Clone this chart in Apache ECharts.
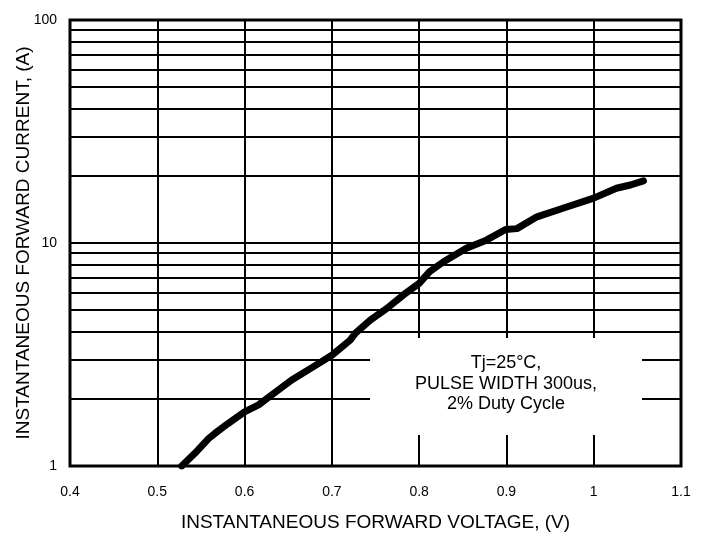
<!DOCTYPE html>
<html>
<head>
<meta charset="utf-8">
<script src="https://cdn.jsdelivr.net/npm/echarts@6/dist/echarts.min.js"></script>
<style>
html,body{margin:0;padding:0;background:#fff;}
#chart{width:706px;height:534px;}
</style>
</head>
<body>
<div id="chart"></div>
<script>
// Forward voltage (V) and forward current (A)
const forwardVoltage = [0.528, 0.543, 0.559, 0.566, 0.581, 0.600, 0.616, 0.631, 0.654, 0.679, 0.700, 0.721, 0.727, 0.744, 0.763, 0.782, 0.800, 0.812, 0.828, 0.854, 0.877, 0.899, 0.912, 0.935, 0.969, 1.000, 1.026, 1.042, 1.057];
const forwardCurrent = [1.00, 1.14, 1.33, 1.40, 1.55, 1.75, 1.88, 2.08, 2.43, 2.79, 3.14, 3.67, 3.94, 4.51, 5.09, 5.85, 6.59, 7.44, 8.24, 9.47, 10.3, 11.5, 11.6, 13.1, 14.5, 15.9, 17.6, 18.2, 19.0];
// Horizontal log-grid values
const currentGridValues = [2, 3, 4, 5, 6, 7, 8, 9, 10, 20, 30, 40, 50, 60, 70, 80, 90];
const xTitle = 'INSTANTANEOUS FORWARD VOLTAGE, (V)';
const yTitle = 'INSTANTANEOUS FORWARD CURRENT, (A)';
const noteLines = ['Tj=25°C,', 'PULSE WIDTH 300us,', '2% Duty Cycle'];

const FONT = 'Liberation Sans, Arial, sans-serif';
const chart = echarts.init(document.getElementById('chart'), null, {renderer: 'canvas'});

chart.setOption({
  backgroundColor: '#ffffff',
  animation: false,
  grid: {
    left: 70, top: 20, right: 25, bottom: 68,
    containLabel: false, outerBoundsMode: 'none',
    show: true, borderColor: '#000', borderWidth: 3, backgroundColor: 'transparent'
  },
  xAxis: {
    type: 'value', min: 0.4, max: 1.1, interval: 0.1,
    name: xTitle, nameLocation: 'middle', nameGap: 47, nameMoveOverlap: false,
    nameTextStyle: {fontFamily: FONT, fontSize: 19, color: '#000'},
    axisLine: {show: false}, axisTick: {show: false},
    axisLabel: {fontFamily: FONT, fontSize: 14, color: '#000', margin: 19,
      formatter: v => String(Math.round(v * 10) / 10)},
    splitLine: {show: true, lineStyle: {color: '#000', width: 2}}
  },
  yAxis: {
    type: 'log', logBase: 10, min: 1, max: 100,
    name: yTitle, nameLocation: 'middle', nameGap: 37, nameRotate: 90, nameMoveOverlap: false,
    nameTextStyle: {fontFamily: FONT, fontSize: 19, color: '#000'},
    axisLine: {show: false}, axisTick: {show: false},
    axisLabel: {fontFamily: FONT, fontSize: 14, color: '#000', margin: 13},
    splitLine: {show: false}
  },
  series: [{
    type: 'line',
    data: forwardVoltage.map((v, i) => [v, forwardCurrent[i]]),
    showSymbol: false,
    smooth: false,
    lineStyle: {color: '#000', width: 7, cap: 'round', join: 'round'},
    z: 5,
    markLine: {
      silent: true, symbol: 'none', animation: false,
      label: {show: false},
      lineStyle: {color: '#000', width: 2, type: 'solid'},
      data: currentGridValues.map(v => ({yAxis: v}))
    }
  }],
  graphic: [
    {type: 'rect', z: 100, silent: true,
      shape: {x: 370, y: 338, width: 272, height: 97}, style: {fill: '#fff'}},
    {type: 'text', z: 101, silent: true, x: 506, y: 384,
      style: {text: noteLines.join('\n'), font: '18px ' + FONT, fill: '#000',
        textAlign: 'center', textVerticalAlign: 'middle', lineHeight: 20.5}}
  ]
});
</script>
</body>
</html>
